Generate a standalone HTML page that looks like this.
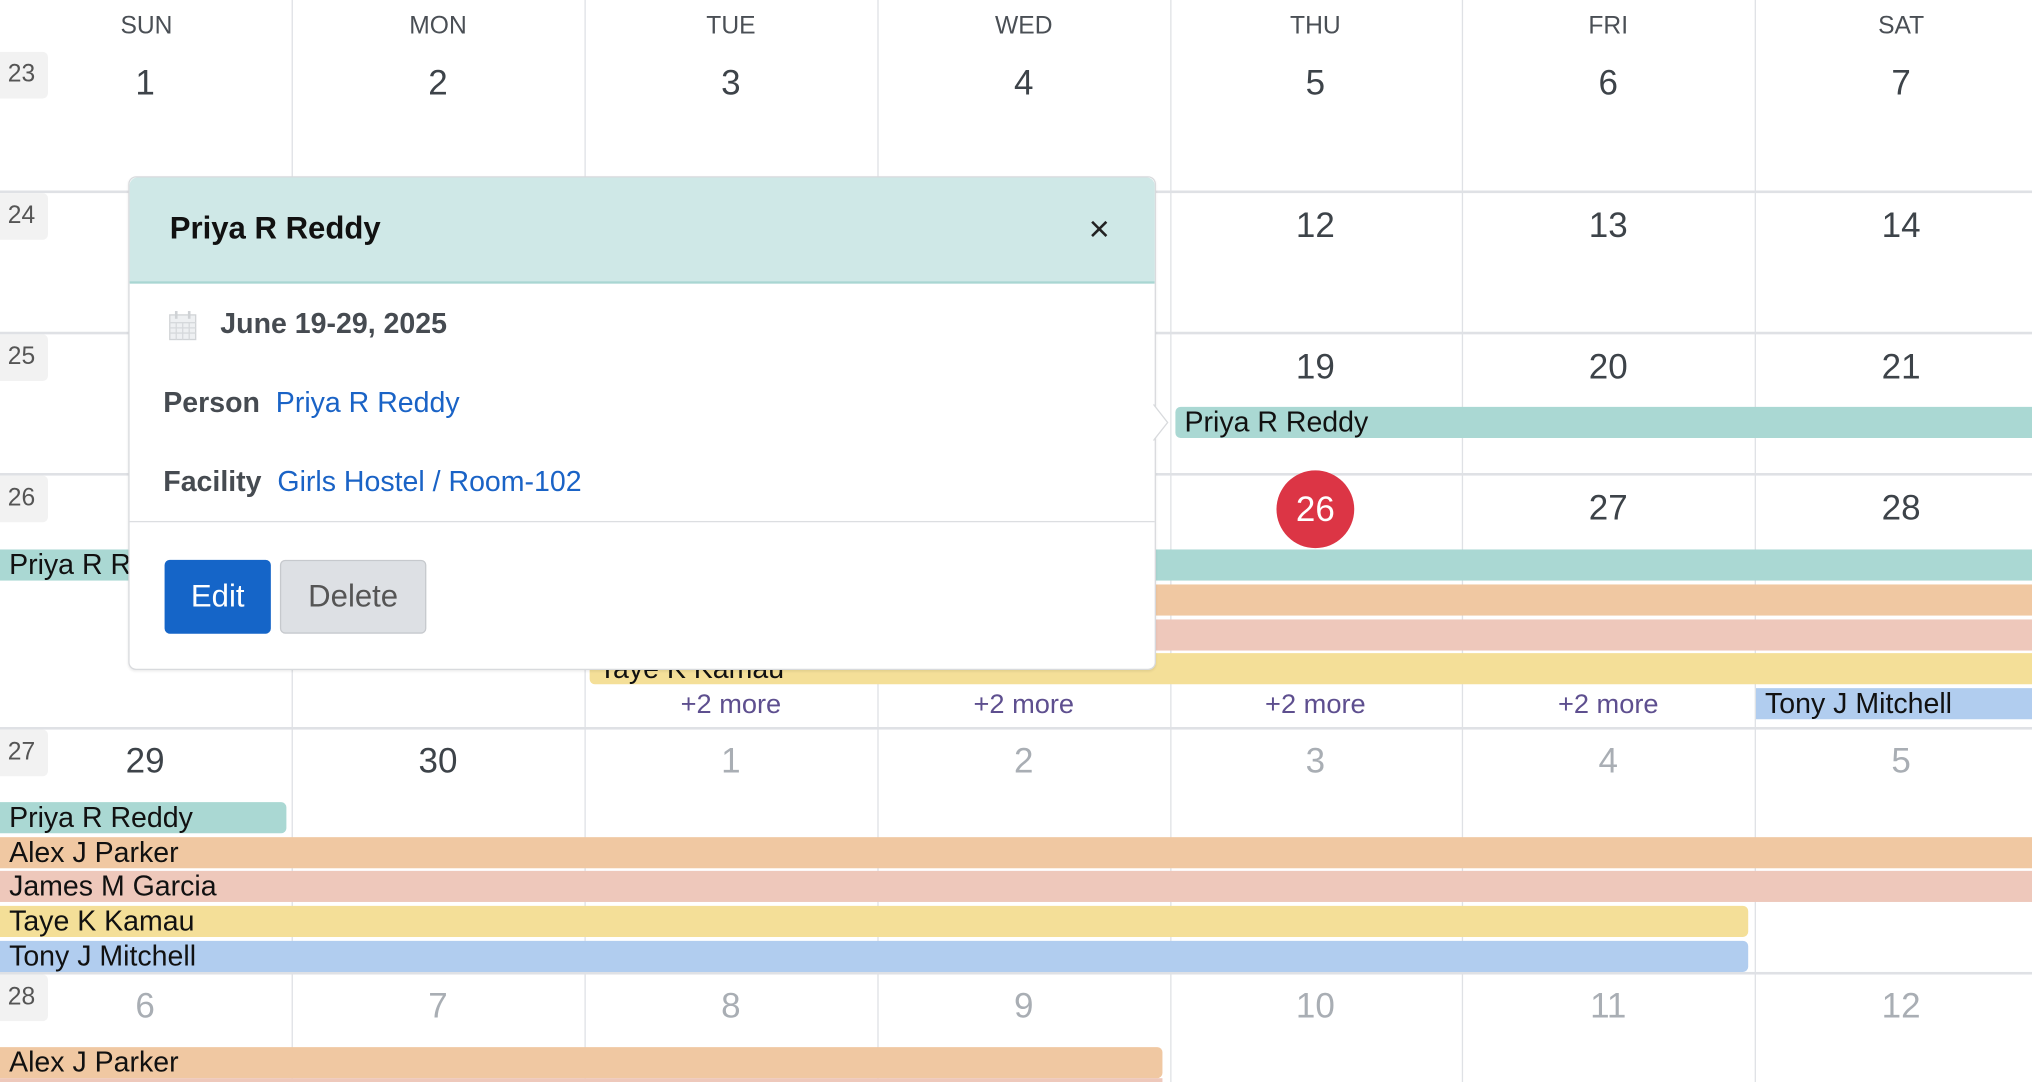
<!DOCTYPE html>
<html><head><meta charset="utf-8"><style>
html,body{margin:0;padding:0;background:#fff;overflow:hidden;width:2032px;height:1082px}
#w{position:absolute;left:0;top:0;width:1568px;height:835px;transform:scale(1.29592);transform-origin:0 0;font-family:"Liberation Sans",sans-serif;overflow:hidden}
.a{position:absolute}
.vl{position:absolute;top:0;width:1px;height:835px;background:#dfe1e5}
.hl{position:absolute;left:0;width:1568px;height:2px;background:#dfe1e5}
.dn{position:absolute;top:10px;width:226px;text-align:center;font-size:19px;color:#4a4f55}
.num{position:absolute;width:226px;text-align:center;font-size:27px;color:#3d4349}
.om{color:#a9aeb4}
.wk{position:absolute;left:0;width:37px;height:36px;background:#f2f2f2;border-radius:0 4px 4px 0;font-size:19px;color:#555;padding:7px 0 0 6px;box-sizing:border-box}
.ev{position:absolute;height:24px;font-size:22px;line-height:24px;color:#111;padding-left:7px;box-sizing:border-box;white-space:nowrap;overflow:hidden;border-radius:0}
.t{background:#aad8d3}.o{background:#f0c8a2}.p{background:#eec8bb}.y{background:#f4df98}.b{background:#b1cdef}
.more{position:absolute;top:532px;width:226px;text-align:center;font-size:21px;color:#5e4f8f}
</style></head><body><div id="w">
<div class="vl" style="left:225px"></div><div class="vl" style="left:451px"></div><div class="vl" style="left:677px"></div><div class="vl" style="left:903px"></div><div class="vl" style="left:1128px"></div><div class="vl" style="left:1354px"></div>
<div class="hl" style="top:147px"></div><div class="hl" style="top:256px"></div><div class="hl" style="top:365px"></div><div class="hl" style="top:561px"></div><div class="hl" style="top:750px"></div>

<div class="dn" style="left:0">SUN</div><div class="dn" style="left:225px">MON</div><div class="dn" style="left:451px">TUE</div><div class="dn" style="left:677px">WED</div><div class="dn" style="left:902px">THU</div><div class="dn" style="left:1128px">FRI</div><div class="dn" style="left:1354px">SAT</div>

<div class="wk" style="top:40px">23</div><div class="wk" style="top:149px">24</div><div class="wk" style="top:258px">25</div><div class="wk" style="top:367px">26</div><div class="wk" style="top:563px">27</div><div class="wk" style="top:752px">28</div>

<div class="num" style="top:49px;left:-1px">1</div><div class="num" style="top:49px;left:225px">2</div><div class="num" style="top:49px;left:451px">3</div><div class="num" style="top:49px;left:677px">4</div><div class="num" style="top:49px;left:902px">5</div><div class="num" style="top:49px;left:1128px">6</div><div class="num" style="top:49px;left:1354px">7</div>
<div class="num" style="top:159px;left:902px">12</div><div class="num" style="top:159px;left:1128px">13</div><div class="num" style="top:159px;left:1354px">14</div>
<div class="num" style="top:268px;left:902px">19</div><div class="num" style="top:268px;left:1128px">20</div><div class="num" style="top:268px;left:1354px">21</div>
<div class="a" style="left:985px;top:363px;width:60px;height:60px;border-radius:50%;background:#dc3545;color:#fff;font-size:27px;text-align:center;line-height:60px">26</div>
<div class="num" style="top:377px;left:1128px">27</div><div class="num" style="top:377px;left:1354px">28</div>
<div class="num" style="top:572px;left:-1px">29</div><div class="num" style="top:572px;left:225px">30</div><div class="num om" style="top:572px;left:451px">1</div><div class="num om" style="top:572px;left:677px">2</div><div class="num om" style="top:572px;left:902px">3</div><div class="num om" style="top:572px;left:1128px">4</div><div class="num om" style="top:572px;left:1354px">5</div>
<div class="num om" style="top:761px;left:-1px">6</div><div class="num om" style="top:761px;left:225px">7</div><div class="num om" style="top:761px;left:451px">8</div><div class="num om" style="top:761px;left:677px">9</div><div class="num om" style="top:761px;left:902px">10</div><div class="num om" style="top:761px;left:1128px">11</div><div class="num om" style="top:761px;left:1354px">12</div>

<div class="ev t" style="left:907px;top:314px;width:700px;border-radius:4px 0 0 4px">Priya R Reddy</div>
<div class="ev t" style="left:0;top:424px;width:1568px">Priya R Reddy</div>
<div class="ev o" style="left:455px;top:451px;width:1113px">Alex J Parker</div>
<div class="ev p" style="left:455px;top:478px;width:1113px">James M Garcia</div>
<div class="ev y" style="left:455px;top:504px;width:1113px;border-radius:4px 0 0 4px">Taye K Kamau</div>
<div class="more" style="left:451px">+2 more</div><div class="more" style="left:677px">+2 more</div><div class="more" style="left:902px">+2 more</div><div class="more" style="left:1128px">+2 more</div>
<div class="ev b" style="left:1355px;top:531px;width:213px">Tony J Mitchell</div>

<div class="ev t" style="left:0;top:619px;width:221px;border-radius:0 4px 4px 0">Priya R Reddy</div>
<div class="ev o" style="left:0;top:646px;width:1568px">Alex J Parker</div>
<div class="ev p" style="left:0;top:672px;width:1568px">James M Garcia</div>
<div class="ev y" style="left:0;top:699px;width:1349px;border-radius:0 4px 4px 0">Taye K Kamau</div>
<div class="ev b" style="left:0;top:726px;width:1349px;border-radius:0 4px 4px 0">Tony J Mitchell</div>
<div class="ev o" style="left:0;top:808px;width:897px;border-radius:0 4px 4px 0">Alex J Parker</div>
<div class="ev p" style="left:0;top:832px;width:897px"></div>

<div class="a" style="left:99px;top:136px;width:793px;height:381px;background:#fff;border:1px solid #d8dadd;border-radius:6px;box-sizing:border-box;box-shadow:0 1px 2px rgba(0,0,0,.08)">
 <div class="a" style="left:0;top:0;width:791px;height:80px;background:#cfe8e7;border-bottom:2px solid #a9d6d2;border-radius:6px 6px 0 0"></div>
 <div class="a" style="left:31px;top:26px;font-size:24px;font-weight:bold;color:#111">Priya R Reddy</div>
 <div class="a" style="left:740px;top:24px;font-size:28px;color:#222">×</div>
 <svg class="a" style="left:30px;top:102px" width="22" height="24" viewBox="0 0 22 24"><rect x="1" y="4" width="20" height="19" fill="#eef0f2" stroke="#d0d3d6"/><rect x="5" y="1" width="2" height="6" fill="#cfd2d5"/><rect x="15" y="1" width="2" height="6" fill="#cfd2d5"/><path d="M1 10H21M1 14H21M1 18H21M6 10V23M11 10V23M16 10V23" stroke="#d6d9dc" fill="none"/></svg>
 <div class="a" style="left:70px;top:100px;font-size:22px;font-weight:bold;color:#464b51">June 19-29, 2025</div>
 <div class="a" style="left:26px;top:161px;font-size:22px;color:#464b51"><b style="font-weight:600">Person</b>&nbsp;&nbsp;<span style="color:#1a63c6">Priya R Reddy</span></div>
 <div class="a" style="left:26px;top:222px;font-size:22px;color:#464b51"><b style="font-weight:600">Facility</b>&nbsp;&nbsp;<span style="color:#1a63c6">Girls Hostel / Room-102</span></div>
 <div class="a" style="left:0;top:265px;width:791px;height:1px;background:#dcdee1"></div>
 <div class="a" style="left:27px;top:295px;width:82px;height:57px;background:#1565c8;border-radius:4px;color:#fff;font-size:24px;text-align:center;line-height:57px">Edit</div>
 <div class="a" style="left:116px;top:295px;width:113px;height:57px;background:#dde0e4;border:1px solid #c6c9cd;box-sizing:border-box;border-radius:4px;color:#555;font-size:24px;text-align:center;line-height:55px">Delete</div>
</div>
<svg class="a" style="left:890px;top:310px" width="14" height="32" viewBox="0 0 14 32"><path d="M0 2L11 16L0 30" fill="#fff" stroke="#d8dadd"/></svg>
</div></body></html>
